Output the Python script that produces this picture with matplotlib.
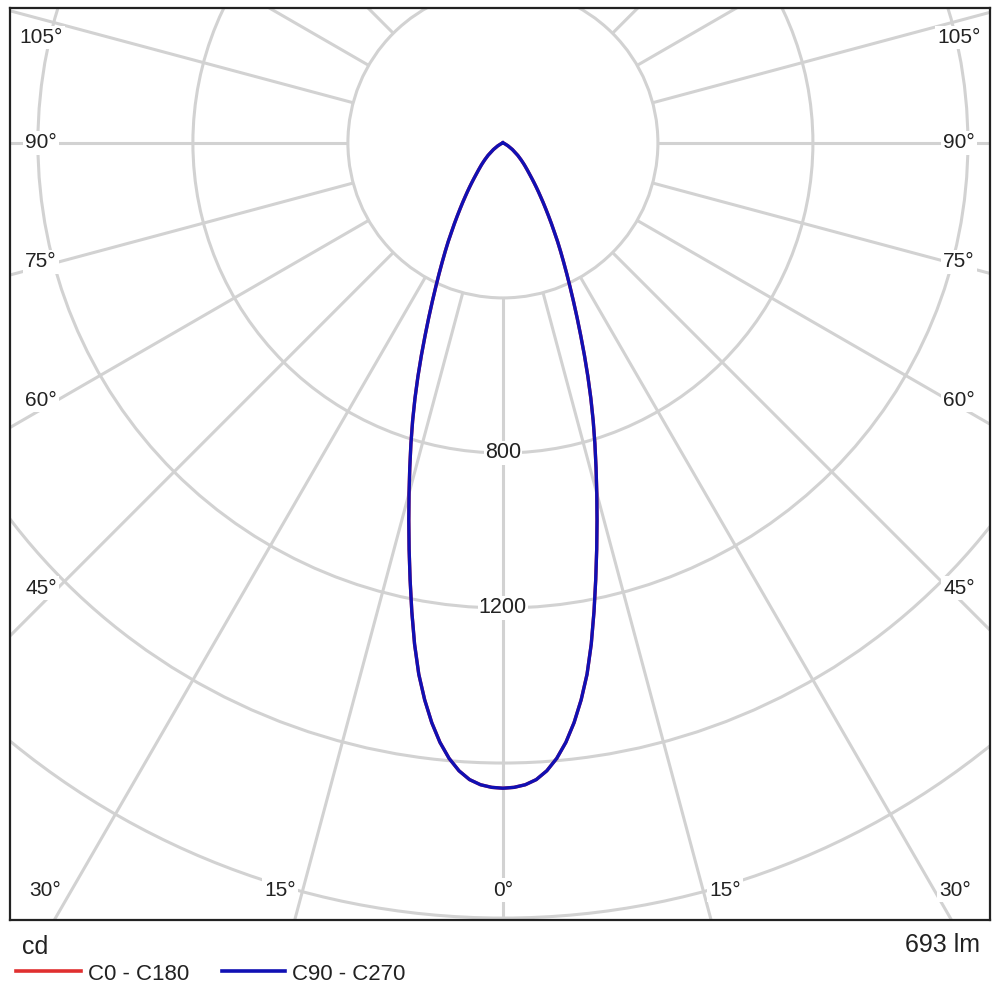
import numpy as np
import matplotlib
matplotlib.use("Agg")
import matplotlib.pyplot as plt
from matplotlib.lines import Line2D
from matplotlib.patches import Circle

plt.rcParams['font.family'] = ['Liberation Sans', 'DejaVu Sans']

# ---------------- data ----------------
gamma_deg = list(range(0, 41)) + [42, 44, 45, 47, 50, 55, 60, 65, 70, 80, 90]
intensity_c0_c180 = [1665, 1663, 1657, 1645, 1624, 1594, 1555, 1507, 1451, 1388,
                     1313, 1232, 1152, 1076, 1004, 936, 872, 812, 754, 697,
                     641, 587, 536, 490, 448, 410, 376, 345, 317, 291,
                     265, 243, 222, 203, 186, 170, 156, 143, 131, 120,
                     110, 94, 81, 75, 64, 50, 30, 15, 5, 0, 0, 0]
intensity_c90_c270 = [1665, 1663, 1657, 1645, 1624, 1594, 1555, 1507, 1451, 1388,
                      1313, 1232, 1152, 1076, 1004, 936, 872, 812, 754, 697,
                      641, 587, 536, 490, 448, 410, 376, 345, 317, 291,
                      265, 243, 222, 203, 186, 170, 156, 143, 131, 120,
                      110, 94, 81, 75, 64, 50, 30, 15, 5, 0, 0, 0]
series_names = ["C0 - C180", "C90 - C270"]
series_colors = ["#e03030", "#1010b4"]

ring_values = [400, 800, 1200, 1600, 2000, 2400]
ring_label_values = [800, 1200]
spoke_angles = list(range(0, 360, 15))

side_labels = ["105°", "90°", "75°", "60°", "45°"]
side_label_y = [0.968, 0.852, 0.7215, 0.570, 0.364]       # axes fraction
bottom_labels = ["30°", "15°", "0°", "15°", "30°"]
bottom_label_x = [0.0357, 0.2755, 0.503, 0.7296, 0.9643]  # axes fraction
unit_label = "cd"
flux_label = "693 lm"

# ---------------- figure ----------------
fig = plt.figure(figsize=(10, 10), dpi=100)
ax = fig.add_axes([0.010, 0.080, 0.980, 0.912])
ax.set_xlim(-1272, 1257)
ax.set_ylim(-2005, 348)
ax.set_xticks([])
ax.set_yticks([])
for s in ax.spines.values():
    s.set_linewidth(1.6)
    s.set_color("#222222")

grid_color = "#d2d2d2"
grid_lw = 2.2

# rings
for r in ring_values:
    ax.add_patch(Circle((0, 0), r, fill=False, edgecolor=grid_color,
                        linewidth=grid_lw, zorder=1))
# spokes starting at the first ring
r0 = ring_values[0]
r1 = 4000
for a in spoke_angles:
    t = np.deg2rad(a)
    ax.plot([r0 * np.sin(t), r1 * np.sin(t)], [-r0 * np.cos(t), -r1 * np.cos(t)],
            color=grid_color, linewidth=grid_lw, zorder=1, solid_capstyle='butt')

# ring labels
for v in ring_label_values:
    ax.text(0, -v, str(v), ha='center', va='center', fontsize=15.5, color="#222222",
            zorder=3, bbox=dict(facecolor='white', edgecolor='none', pad=1.0))

# curves (left half = C180/C270, right half = C0/C90)
for vals, col in zip([intensity_c0_c180, intensity_c90_c270], series_colors):
    g = np.deg2rad(np.array(gamma_deg, dtype=float))
    I = np.array(vals, dtype=float)
    g_full = np.concatenate([-g[::-1], g[1:]])
    I_full = np.concatenate([I[::-1], I[1:]])
    ax.plot(I_full * np.sin(g_full), -I_full * np.cos(g_full), color=col,
            linewidth=2.4, zorder=4, solid_joinstyle='round')

# angle labels
lab_kw = dict(ha='center', va='center', fontsize=15, color="#222222", zorder=3,
              bbox=dict(facecolor='white', edgecolor='none', pad=1.5))
x_in = 31 / 980
for lab, yf in zip(side_labels, side_label_y):
    ax.text(x_in, yf, lab, transform=ax.transAxes, **lab_kw)
    ax.text(1 - x_in, yf, lab, transform=ax.transAxes, **lab_kw)
for lab, xf in zip(bottom_labels, bottom_label_x):
    ax.text(xf, 30 / 912, lab, transform=ax.transAxes, **lab_kw)

# footer texts
fig.text(0.022, 0.053, unit_label, ha='left', va='center', fontsize=18, color="#222222")
fig.text(0.980, 0.055, flux_label, ha='right', va='center', fontsize=18, color="#222222")

# legend
leg_x = [(0.016, 0.081), (0.222, 0.285)]
for (x0, x1), name, col in zip(leg_x, series_names, series_colors):
    fig.add_artist(Line2D([x0, x1], [0.029, 0.029], color=col, linewidth=2.6,
                          transform=fig.transFigure))
    fig.text(x1 + 0.007, 0.026, name, ha='left', va='center', fontsize=16, color="#222222")

fig.savefig("out.png", dpi=100, facecolor='white')
